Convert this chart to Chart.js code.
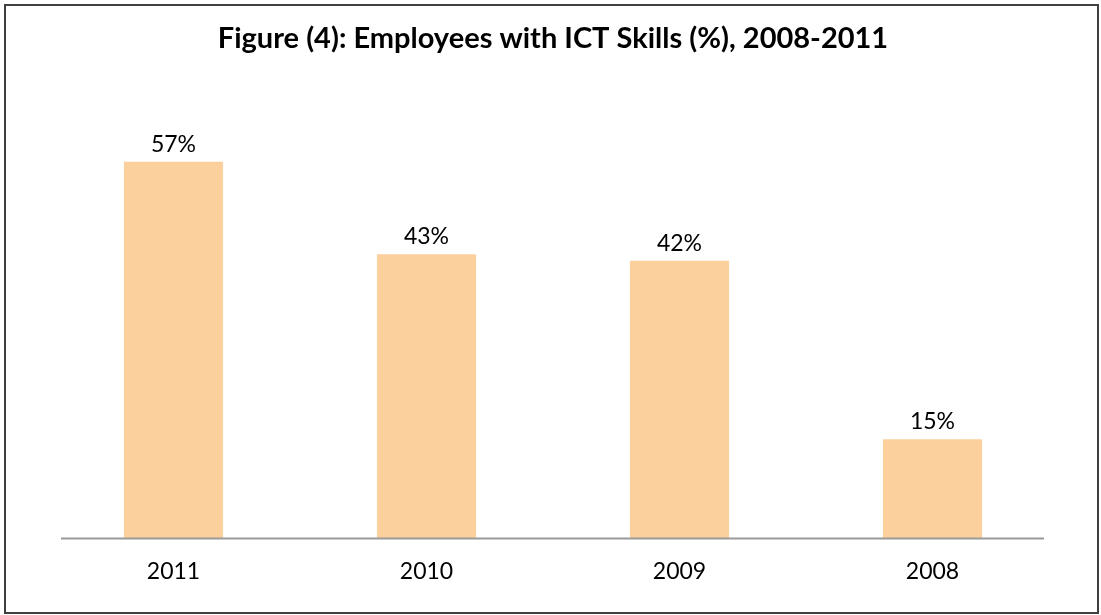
<!DOCTYPE html>
<html>
<head>
<meta charset="utf-8">
<script src="https://cdn.jsdelivr.net/npm/chart.js@4"></script>
<style>
  html, body { margin: 0; padding: 0; background: #fff; }
  #wrap { position: relative; width: 1101px; height: 615px; }
  #frame {
    position: absolute; left: 4px; top: 4px; width: 1095px; height: 610px;
    box-sizing: border-box; border: 2px solid #404040; pointer-events: none;
  }
</style>
</head>
<body>
<div id="wrap">
  <canvas id="ictChart" width="1101" height="615"></canvas>
  <div id="frame"></div>
</div>
<script>
// Chart data
const years = ["2011", "2010", "2009", "2008"];
const ictShare = [57, 43, 42, 15];
const titleText = "Figure (4): Employees with ICT Skills (%), 2008-2011";

const fontFamily = "Lato, 'Open Sans', sans-serif";

// Value labels above bars
const valueLabels = {
  id: "valueLabels",
  afterDatasetsDraw(chart) {
    const ctx = chart.ctx;
    const meta = chart.getDatasetMeta(0);
    ctx.save();
    ctx.font = "23px " + fontFamily;
    ctx.fillStyle = "#000";
    ctx.textAlign = "center";
    ctx.textBaseline = "alphabetic";
    meta.data.forEach((bar, i) => {
      ctx.fillText(ictShare[i] + "%", bar.x, bar.y - 10);
    });
    ctx.restore();
  },
};

// Category axis line (a bit shorter than the plot area, like the original)
const baseLine = {
  id: "baseLine",
  afterDatasetsDraw(chart) {
    const ctx = chart.ctx;
    const area = chart.chartArea;
    const y = chart.scales.y.getPixelForValue(0);
    ctx.save();
    ctx.strokeStyle = "#9a9a9a";
    ctx.lineWidth = 2;
    ctx.beginPath();
    ctx.moveTo(area.left + 14, y);
    ctx.lineTo(area.right - 15, y);
    ctx.stroke();
    ctx.restore();
  },
};

new Chart(document.getElementById("ictChart"), {
  type: "bar",
  data: {
    labels: years,
    datasets: [
      {
        data: ictShare,
        backgroundColor: "#fcd09c",
        borderWidth: 0,
        categoryPercentage: 1,
        barPercentage: 0.392,
      },
    ],
  },
  options: {
    responsive: false,
    animation: false,
    layout: {
      padding: { left: 47, right: 42, top: 0, bottom: 19 },
    },
    scales: {
      x: {
        grid: { display: false },
        border: { display: false },
        ticks: {
          color: "#000",
          padding: 11,
          font: { family: fontFamily, size: 23 },
        },
      },
      y: {
        display: false,
        min: 0,
        max: 60,
      },
    },
    plugins: {
      legend: { display: false },
      tooltip: { enabled: false },
      title: {
        display: true,
        text: titleText,
        color: "#000",
        padding: { top: 21, bottom: 86 },
        font: { family: fontFamily, size: 29, weight: "bold" },
      },
    },
  },
  plugins: [valueLabels, baseLine],
});
</script>
</body>
</html>
